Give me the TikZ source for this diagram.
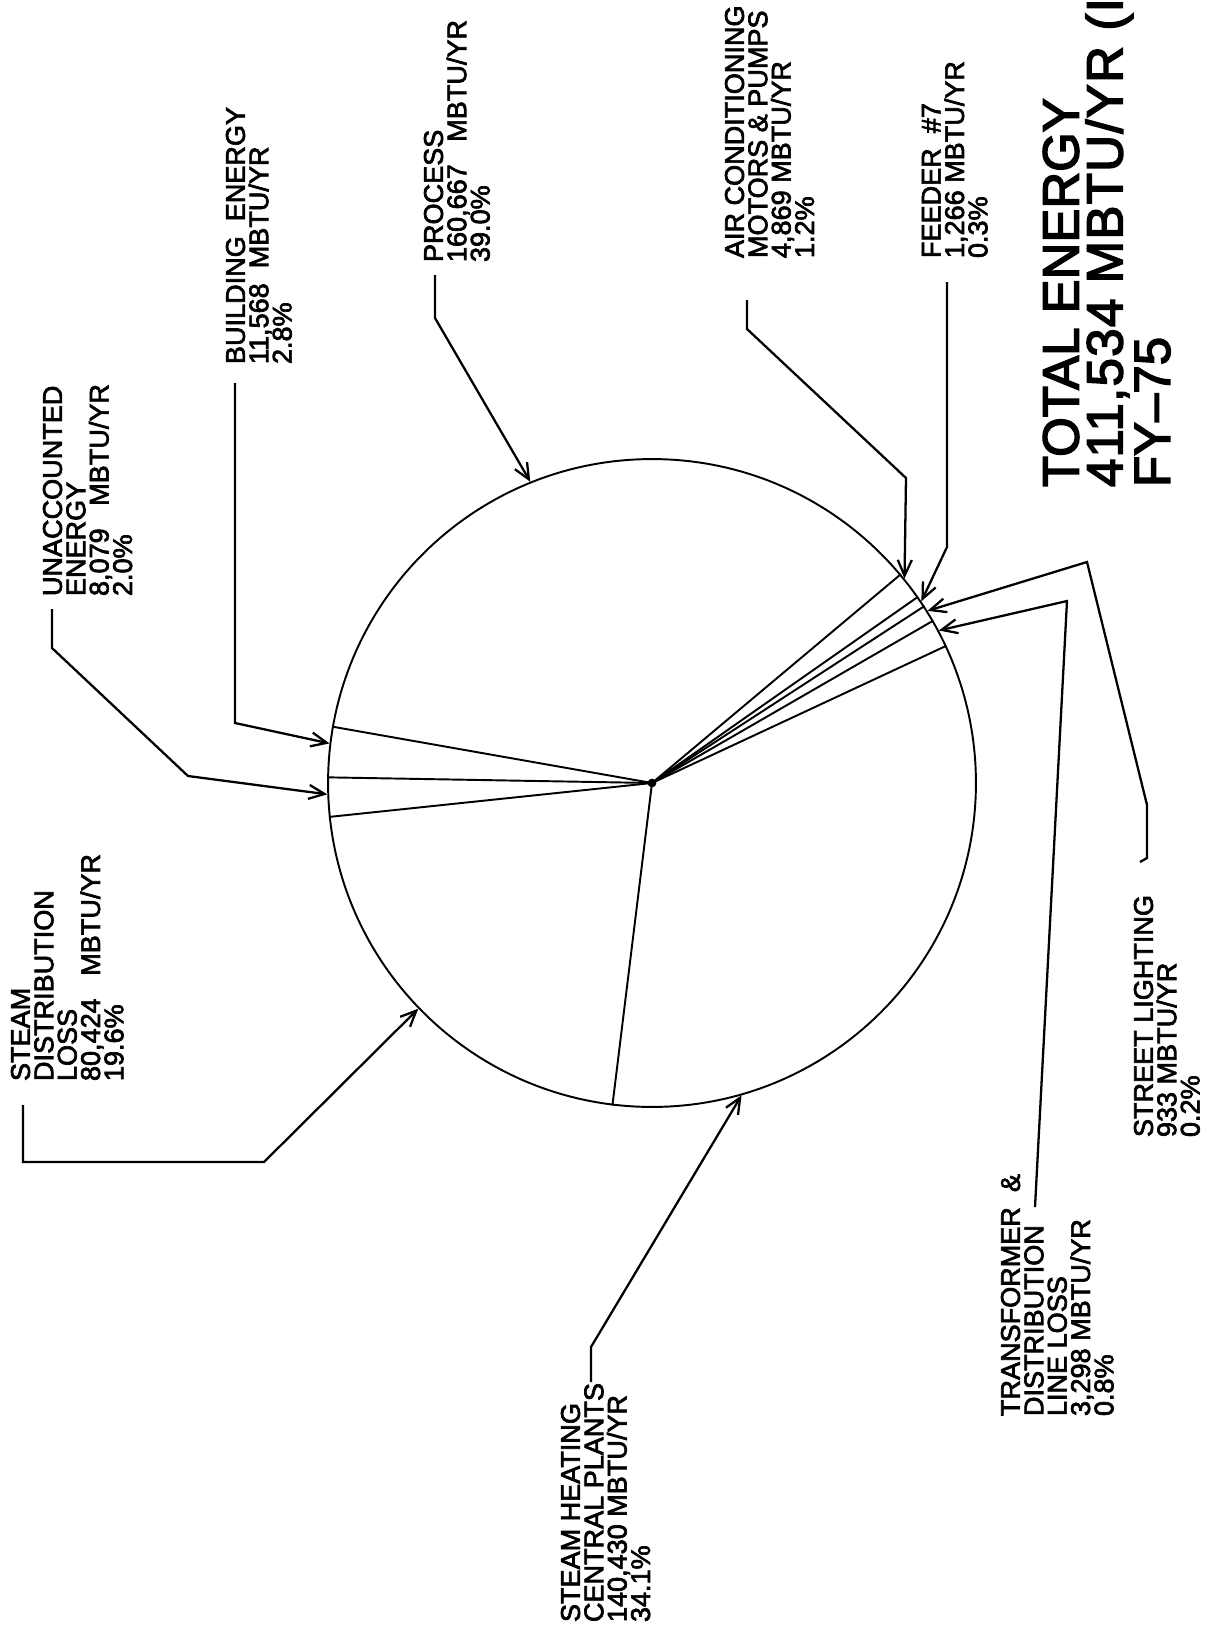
\documentclass[tikz,border=0pt]{standalone}
\usepackage{fontspec}
\setmainfont{Liberation Sans}
\newfontfamily\lblface[FakeBold=2.5]{Liberation Sans}
\newfontfamily\ttlface[FakeBold=3]{Liberation Sans}
\usetikzlibrary{arrows.meta,positioning}

\newcommand{\lblfont}{\lblface\fontsize{15.4}{13.3}\selectfont}
\newcommand{\ttlfont}{\ttlface\fontsize{29}{25}\selectfont}

\begin{document}
\begin{tikzpicture}[x=0.02cm, y=-0.02cm, line width=1.1pt,
    >={Straight Barb[length=9pt,width=8pt]},
    lbl/.style={rotate=90, anchor=north west, inner sep=0pt, align=left, font=\lblfont},
    lead/.style={->, line width=1.3pt}]
    \fill [white] (0,0) rectangle (1211,1633);
    \useasboundingbox (0,0) rectangle (1211,1633);

    % the pie
    \node [circle, draw, minimum size=12.96cm, inner sep=0pt] (pie) at (652,783) {};
    \foreach \a in {40.8,35.6,33.2,30.8,25.7,263.3,186.4,179.5,170.1}
        \draw (pie.center) -- (pie.\a);
    \fill (pie.center) circle [radius=2.5pt];

    % labels
    \node [lbl] (unacc) at (42,597) {UNACCOUNTED\\ENERGY\\8,079~~~MBTU/YR\\2.0\%};
    \node [lbl] (bldg) at (225,365) {BUILDING~~ENERGY\\11,568~~MBTU/YR\\2.8\%};
    \node [lbl] (proc) at (423,263) {PROCESS\\160,667~~~MBTU/YR\\39.0\%};
    \node [lbl] (aircon) at (724,259) {AIR CONDITIONING\\MOTORS \& PUMPS\\4,869 MBTU/YR\\1.2\%};
    \node [lbl] (feed) at (921,259) {FEEDER~~\#7\\1,266 MBTU/YR\\0.3\%};
    \node [lbl, font=\ttlfont] (total) at (1042,488)
        {TOTAL ENERGY\\{\addfontfeature{LetterSpace=2.6}411,534 MBTU/YR (I}\\FY\textendash 75};
    \node [lbl] (stdist) at (10,1082) {STEAM\\DISTRIBUTION\\LOSS\\80,424~~~MBTU/YR\\19.6\%};
    \node [lbl] (stheat) at (560,1623) {STEAM HEATING\\CENTRAL PLANTS\\140,430 MBTU/YR\\34.1\%};
    \node [lbl] (trans) at (1000,1417) {TRANSFORMER~~\&\\DISTRIBUTION\\LINE LOSS\\3,298 MBTU/YR\\0.8\%};
    \node [lbl] (street) at (1133,1138) {STREET LIGHTING\\933 MBTU/YR\\0.2\%};

    % leader lines
    \coordinate (unacc-a) at (52,609);
    \coordinate (unacc-b) at (52,648);
    \coordinate (unacc-c) at (188,776);
    \draw [lead] (unacc-a) -- (unacc-b) -- (unacc-c) -- (pie.182.5);

    \coordinate (bldg-a) at (235,383);
    \coordinate (bldg-b) at (235,723);
    \draw [lead] (bldg-a) -- (bldg-b) -- (pie.173.3);

    \coordinate (proc-a) at (435,275);
    \coordinate (proc-b) at (435,318);
    \draw [lead] (proc-a) -- (proc-b) -- (pie.112.3);

    \coordinate (aircon-a) at (747,300);
    \coordinate (aircon-b) at (747,329);
    \coordinate (aircon-c) at (906,478);
    \draw [lead] (aircon-a) -- (aircon-b) -- (aircon-c) -- (pie.39.6);

    \coordinate (feed-a) at (947,282);
    \coordinate (feed-b) at (947,547);
    \draw [lead] (feed-a) -- (feed-b) -- (pie.34.5);

    \coordinate (street-a) at (1140,862);
    \coordinate (street-b) at (1147,858);
    \coordinate (street-c) at (1147,805);
    \coordinate (street-d) at (1087,562);
    \draw [lead] (street-a) -- (street-b) -- (street-c) -- (street-d) -- (pie.32.4);

    \coordinate (trans-a) at (1035,1207);
    \coordinate (trans-b) at (1067,601);
    \draw [lead] (trans-a) -- (trans-b) -- (pie.28.6);

    \coordinate (stheat-a) at (591,1382);
    \coordinate (stheat-b) at (591,1347);
    \draw [lead] (stheat-a) -- (stheat-b) -- (pie.286.1);

    \coordinate (stdist-a) at (23,1105);
    \coordinate (stdist-b) at (23,1162);
    \coordinate (stdist-c) at (264,1162);
    \draw [lead] (stdist-a) -- (stdist-b) -- (stdist-c) -- (pie.224.9);
\end{tikzpicture}
\end{document}
